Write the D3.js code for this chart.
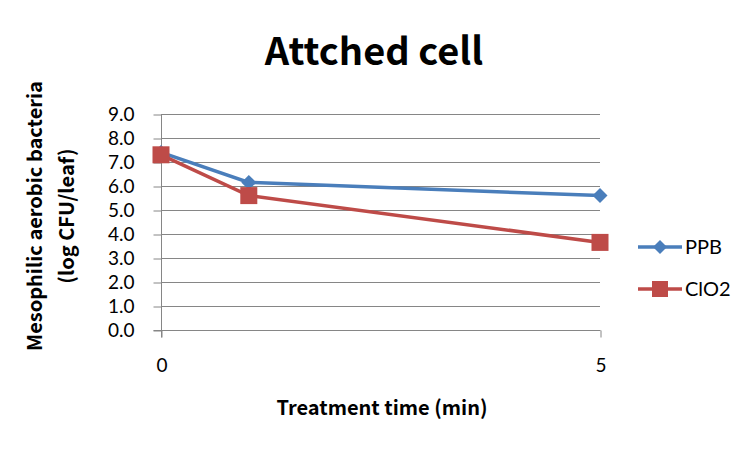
<!DOCTYPE html>
<html><head><meta charset="utf-8">
<script src="https://cdn.jsdelivr.net/npm/d3@7"></script>
<style>body{margin:0;background:#fff}svg{display:block}</style>
</head><body><svg id="c" width="752" height="451"></svg>
<script>
const times = [0, 1, 5];
const ppb = [7.4, 6.15, 5.6];
const clo2 = [7.3, 5.6, 3.65];
const xTicks = [0, 5];
const yTicks = [0,1,2,3,4,5,6,7,8,9];
const seriesNames = ["PPB", "ClO2"];

const svg = d3.select("#c");
const x = d3.scaleLinear().domain([0,5]).range([161,600]);
const y = d3.scaleLinear().domain([0,9]).range([330,114]);
const grid = "#868686";
const tickFont = "Lato,'Open Sans',sans-serif";
const titleFont = "'Noto Sans CJK KR','Open Sans',sans-serif";

svg.append("g").selectAll("line").data(yTicks.filter(d=>d>0)).join("line")
  .attr("x1",161).attr("x2",600).attr("y1",d=>y(d)+0.5).attr("y2",d=>y(d)+0.5)
  .attr("stroke",grid).attr("stroke-width",1);

const ya = svg.append("g").attr("transform","translate(161.5,0.5)")
  .call(d3.axisLeft(y).tickValues(yTicks).tickFormat(d3.format(".1f")).tickSize(8).tickPadding(19));
ya.select(".domain").attr("stroke",grid).attr("d","M0,"+(y(9))+"V"+(y(0)+7));
ya.selectAll(".tick line").attr("stroke",grid);
ya.selectAll(".tick text").style("font-size","19px").style("fill","#000").style("font-family",tickFont);

const xa = svg.append("g").attr("transform","translate(0.5,"+(y(0)+0.5)+")")
  .call(d3.axisBottom(x).tickValues(xTicks).tickFormat(d3.format("d")).tickSize(7).tickPadding(21));
xa.select(".domain").attr("stroke",grid).attr("d","M"+(x(0)-8)+",0H"+x(5));
xa.selectAll(".tick line").attr("stroke",grid);
xa.selectAll(".tick text").style("font-size","19px").style("fill","#000").style("font-family",tickFont);

const line = d3.line().x((d,i)=>x(times[i])).y(d=>y(d));
const cols = ["#4A7EBB","#BE4B48"];
[ppb, clo2].forEach((s,k)=>{
  svg.append("path").datum(s).attr("d",line).attr("fill","none").attr("stroke",cols[k]).attr("stroke-width",3.5);
});
const diamond = r => `M0,${-r}L${r},0L0,${r}L${-r},0Z`;
svg.append("g").selectAll("path").data(ppb).join("path")
  .attr("d",diamond(7.5))
  .attr("transform",(d,i)=>`translate(${x(times[i])},${y(d)})`)
  .attr("fill",cols[0]);
svg.append("g").selectAll("rect").data(clo2).join("rect")
  .attr("x",(d,i)=>x(times[i])-8.5).attr("y",d=>y(d)-8.5).attr("width",17).attr("height",17)
  .attr("fill",cols[1]);

const ly = [247, 289];
seriesNames.forEach((n,k)=>{
  svg.append("line").attr("x1",638).attr("x2",682).attr("y1",ly[k]).attr("y2",ly[k]).attr("stroke",cols[k]).attr("stroke-width",3.5);
  if(k===0) svg.append("path").attr("d",diamond(7)).attr("transform",`translate(660,${ly[k]})`).attr("fill",cols[k]);
  else svg.append("rect").attr("x",652).attr("y",ly[k]-8).attr("width",16).attr("height",16).attr("fill",cols[k]);
  svg.append("text").attr("x",685).attr("y",ly[k]).attr("dy","0.36em").style("font-size","20px").style("font-family",tickFont).text(n);
});

svg.append("text").attr("x",374).attr("y",65).attr("text-anchor","middle").style("font-size","38px").style("font-weight","bold").style("font-family",titleFont).text("Attched cell");
svg.append("text").attr("x",382).attr("y",415).attr("text-anchor","middle").style("font-size","20px").style("font-weight","bold").style("font-family",titleFont).text("Treatment time (min)");
const yl = svg.append("text").attr("transform","translate(42,216) rotate(-90)").attr("text-anchor","middle").style("font-size","20px").style("font-weight","bold").style("font-family",titleFont);
yl.append("tspan").attr("x",0).attr("dy",0).text("Mesophilic aerobic bacteria");
yl.append("tspan").attr("x",0).attr("dy",32).text("(log CFU/leaf)");
</script></body></html>
